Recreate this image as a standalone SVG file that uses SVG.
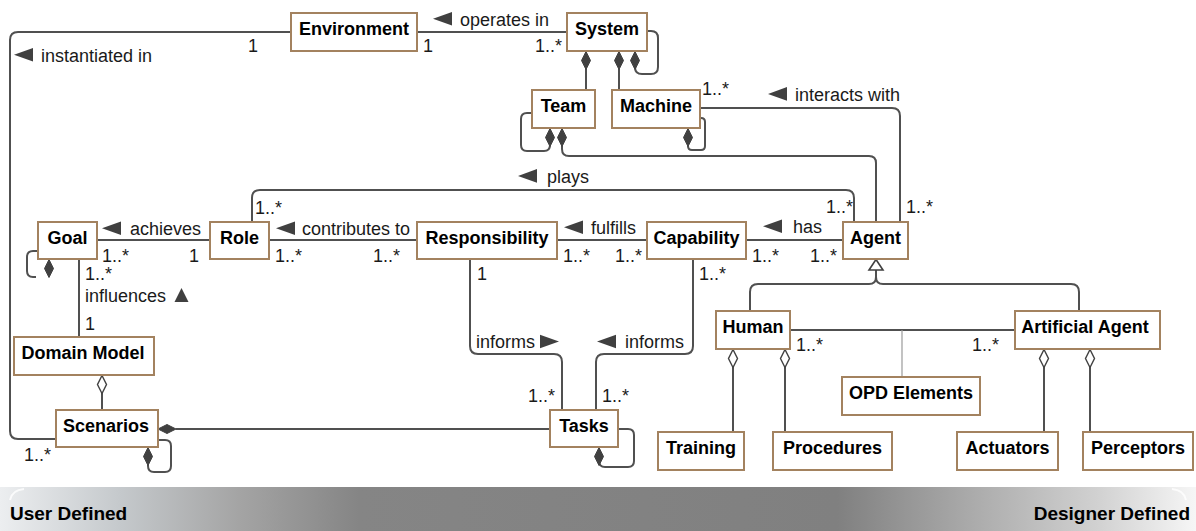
<svg xmlns="http://www.w3.org/2000/svg" xmlns:xlink="http://www.w3.org/1999/xlink" width="1196" height="531" viewBox="0 0 1196 531">
<style>
.box{fill:#fff;stroke:#a3825f;stroke-width:2}
.bl{font-family:"Liberation Sans",Arial,sans-serif;font-size:18px;font-weight:bold;fill:#000;text-anchor:middle}
.t{font-family:"Liberation Sans",Arial,sans-serif;font-size:18px;fill:#1a1a1a}
.band{font-family:"Liberation Sans",Arial,sans-serif;font-size:19px;font-weight:bold;fill:#000}
.c{fill:none;stroke:#505050;stroke-width:2}
.thin{fill:none;stroke:#9a9a9a;stroke-width:1.2}
.fd{fill:#404040;stroke:#404040;stroke-width:1}
.od{fill:#fff;stroke:#404040;stroke-width:1.4}
.ar{fill:#404040}
</style>
<defs>
<path id="dia" d="M0,0 L4.5,9 L0,18 L-4.5,9 Z"/>
<path id="tri" d="M0,0 L19,-6.8 L19,6.8 Z"/>
<linearGradient id="bandg" x1="0" y1="0" x2="1" y2="0">
<stop offset="0" stop-color="#eceef0"/>
<stop offset="0.1" stop-color="#c5c9cc"/>
<stop offset="0.2" stop-color="#a4a4a4"/>
<stop offset="0.3" stop-color="#858585"/>
<stop offset="0.7" stop-color="#808080"/>
<stop offset="0.8" stop-color="#a6a6a6"/>
<stop offset="0.92" stop-color="#d2d2d2"/>
<stop offset="1" stop-color="#f6f6f6"/>
</linearGradient>
</defs>

<g id="band">
<rect x="0" y="487" width="1196" height="44" fill="url(#bandg)"/>
<path d="M10,500 Q12,490 24,489" fill="none" stroke="#fff" stroke-width="2" opacity="0.8"/>
<path d="M1186,500 Q1184,490 1172,489" fill="none" stroke="#fff" stroke-width="2" opacity="0.8"/>
<text class="band" x="10" y="520">User Defined</text>
<text class="band" x="1190" y="520" text-anchor="end">Designer Defined</text>
</g>

<g id="connectors">
<!-- Environment - System -->
<path class="c" d="M417,32 H567"/>
<!-- instantiated in -->
<path class="c" d="M291,32 H18 Q10,32 10,40 V431 Q10,439 18,439 H56"/>
<!-- System composition -->
<path class="c" d="M586,69 V90"/>
<path class="c" d="M619,69 V90"/>
<path class="c" d="M647,31 H651 Q658,31 658,38 V67 Q658,74 651,74 H642 Q635,74 635,67 V69"/>
<use href="#dia" class="fd" x="586" y="51.5"/>
<use href="#dia" class="fd" x="619" y="51.5"/>
<use href="#dia" class="fd" x="635" y="51.5"/>
<!-- Team self loop -->
<path class="c" d="M532,113 H527 Q521,113 521,119 V145 Q521,151 527,151 H544 Q550,151 550,145 V146"/>
<use href="#dia" class="fd" x="550" y="128.5"/>
<!-- Team - Agent -->
<path class="c" d="M562,146 V149 Q562,156 569,156 H869 Q876,156 876,163 V222"/>
<use href="#dia" class="fd" x="562" y="128.5"/>
<!-- Machine self loop -->
<path class="c" d="M700,118 H701 Q705,118 705,122 V146 Q705,150 701,150 H692 Q688,150 688,146"/>
<use href="#dia" class="fd" x="688" y="128.5"/>
<!-- interacts with -->
<path class="c" d="M700,108 H892 Q900,108 900,116 V222"/>
<!-- plays -->
<path class="c" d="M252,222 V198 Q252,190 260,190 H846 Q854,190 854,198 V222"/>
<!-- horizontal chain -->
<path class="c" d="M97,240 H210"/>
<path class="c" d="M269,240 H417"/>
<path class="c" d="M557,240 H647"/>
<path class="c" d="M746,240 H843"/>
<!-- Goal self loop -->
<path class="c" d="M38,251 H33 Q27,251 27,257 V271 Q27,277 33,277 H36"/>
<use href="#dia" class="fd" x="49" y="259.5"/>
<!-- Goal - Domain Model -->
<path class="c" d="M79,259 V337"/>
<!-- Domain Model - Scenarios -->
<path class="c" d="M102,393 V410"/>
<use href="#dia" class="od" x="102" y="375.5"/>
<!-- Scenarios - Tasks -->
<path class="c" d="M176,429 H550"/>
<use href="#dia" class="fd" transform="translate(158,429) rotate(-90)"/>
<!-- Scenarios self loop -->
<path class="c" d="M158,440 H165 Q171,440 171,446 V466 Q171,472 165,472 H154 Q148,472 148,466 V465"/>
<use href="#dia" class="fd" x="148" y="447.5"/>
<!-- Tasks self loop -->
<path class="c" d="M618,429 H628 Q634,429 634,435 V461 Q634,467 628,467 H605 Q599,467 599,461 V465"/>
<use href="#dia" class="fd" x="599" y="447.5"/>
<!-- informs -->
<path class="c" d="M470,259 V346 Q470,354 478,354 H554 Q562,354 562,362 V410"/>
<path class="c" d="M693,259 V346 Q693,354 685,354 H604 Q596,354 596,362 V410"/>
<!-- generalization -->
<path class="c" d="M750,311 V292 Q750,284 758,284 H869 Q876,284 876,277 V270"/>
<path class="c" d="M1079,311 V292 Q1079,284 1071,284 H883 Q876,284 876,277"/>
<path d="M876,259.5 L869,270 L883,270 Z" fill="#fff" stroke="#404040" stroke-width="1.6"/>
<!-- Human - Artificial Agent -->
<path class="c" d="M790,330 H1015"/>
<path class="thin" d="M902,330 V377"/>
<!-- aggregations -->
<path class="c" d="M733,367 V432"/>
<path class="c" d="M785,367 V432"/>
<path class="c" d="M1044,367 V432"/>
<path class="c" d="M1090,367 V432"/>
<use href="#dia" class="od" x="733" y="349.5"/>
<use href="#dia" class="od" x="785" y="349.5"/>
<use href="#dia" class="od" x="1044" y="349.5"/>
<use href="#dia" class="od" x="1090" y="349.5"/>
</g>

<g id="labels">
<use href="#tri" class="ar" x="14" y="54.7"/>
<text class="t" x="41" y="61.5">instantiated in</text>
<use href="#tri" class="ar" x="433" y="18.7"/>
<text class="t" x="460" y="25.5">operates in</text>
<use href="#tri" class="ar" x="768" y="93.9"/>
<text class="t" x="795" y="100.7">interacts with</text>
<use href="#tri" class="ar" x="518" y="175.9"/>
<text class="t" x="547" y="182.7">plays</text>
<use href="#tri" class="ar" x="102" y="228.2"/>
<text class="t" x="130" y="235">achieves</text>
<use href="#tri" class="ar" x="276" y="228.2"/>
<text class="t" x="302" y="235">contributes to</text>
<use href="#tri" class="ar" x="564" y="227.2"/>
<text class="t" x="591" y="234">fulfills</text>
<use href="#tri" class="ar" x="763" y="226.2"/>
<text class="t" x="793" y="233">has</text>
<text class="t" x="85" y="301.5">influences</text>
<path class="ar" d="M181.5,288 L188.5,302 L174.5,302 Z"/>
<text class="t" x="476" y="348.3">informs</text>
<path class="ar" d="M559,341.5 L540,334.7 L540,348.3 Z"/>
<use href="#tri" class="ar" x="597" y="341.5"/>
<text class="t" x="625" y="348.3">informs</text>

<text class="t" x="248" y="52">1</text>
<text class="t" x="423" y="52">1</text>
<text class="t" x="535" y="52">1..*</text>
<text class="t" x="702" y="95">1..*</text>
<text class="t" x="906" y="213">1..*</text>
<text class="t" x="826" y="213">1..*</text>
<text class="t" x="255" y="214">1..*</text>
<text class="t" x="102" y="262">1..*</text>
<text class="t" x="189" y="262">1</text>
<text class="t" x="275" y="262">1..*</text>
<text class="t" x="373" y="262">1..*</text>
<text class="t" x="563" y="262">1..*</text>
<text class="t" x="615" y="262">1..*</text>
<text class="t" x="752" y="262">1..*</text>
<text class="t" x="810" y="262">1..*</text>
<text class="t" x="85" y="280">1..*</text>
<text class="t" x="85" y="330">1</text>
<text class="t" x="477" y="280">1</text>
<text class="t" x="699" y="280">1..*</text>
<text class="t" x="528" y="402">1..*</text>
<text class="t" x="602" y="402">1..*</text>
<text class="t" x="24" y="461">1..*</text>
<text class="t" x="796" y="351">1..*</text>
<text class="t" x="972" y="351">1..*</text>
</g>

<g id="environment"><rect class="box" x="291" y="13" width="126" height="38"/><text class="bl" x="354" y="34.5">Environment</text></g>
<g id="system"><rect class="box" x="567" y="13" width="80" height="38"/><text class="bl" x="607" y="34.5">System</text></g>
<g id="team"><rect class="box" x="532" y="90" width="63" height="38"/><text class="bl" x="563.5" y="111.5">Team</text></g>
<g id="machine"><rect class="box" x="612" y="90" width="88" height="38"/><text class="bl" x="656" y="111.5">Machine</text></g>
<g id="goal"><rect class="box" x="38" y="222" width="59" height="37"/><text class="bl" x="67.5" y="243.5">Goal</text></g>
<g id="role"><rect class="box" x="210" y="222" width="59" height="37"/><text class="bl" x="239.5" y="243.5">Role</text></g>
<g id="responsibility"><rect class="box" x="417" y="222" width="140" height="37"/><text class="bl" x="487" y="243.5">Responsibility</text></g>
<g id="capability"><rect class="box" x="647" y="222" width="99" height="37"/><text class="bl" x="696.5" y="243.5">Capability</text></g>
<g id="agent"><rect class="box" x="843" y="222" width="65" height="37"/><text class="bl" x="875.5" y="243.5">Agent</text></g>
<g id="domain-model"><rect class="box" x="14" y="337" width="140" height="38"/><text class="bl" x="83" y="358.5">Domain Model</text></g>
<g id="scenarios"><rect class="box" x="56" y="410" width="102" height="37"/><text class="bl" x="106" y="431.5">Scenarios</text></g>
<g id="tasks"><rect class="box" x="550" y="410" width="68" height="37"/><text class="bl" x="584" y="431.5">Tasks</text></g>
<g id="human"><rect class="box" x="716" y="311" width="74" height="38"/><text class="bl" x="753" y="332.5">Human</text></g>
<g id="artificial-agent"><rect class="box" x="1015" y="311" width="145" height="38"/><text class="bl" x="1085" y="332.5">Artificial Agent</text></g>
<g id="opd-elements"><rect class="box" x="842" y="377" width="138" height="38"/><text class="bl" x="911" y="398.5">OPD Elements</text></g>
<g id="training"><rect class="box" x="658" y="432" width="86" height="38"/><text class="bl" x="701" y="453.5">Training</text></g>
<g id="procedures"><rect class="box" x="773" y="432" width="119" height="38"/><text class="bl" x="832.5" y="453.5">Procedures</text></g>
<g id="actuators"><rect class="box" x="957" y="432" width="101" height="38"/><text class="bl" x="1007.5" y="453.5">Actuators</text></g>
<g id="perceptors"><rect class="box" x="1083" y="432" width="110" height="38"/><text class="bl" x="1138" y="453.5">Perceptors</text></g>
</svg>
